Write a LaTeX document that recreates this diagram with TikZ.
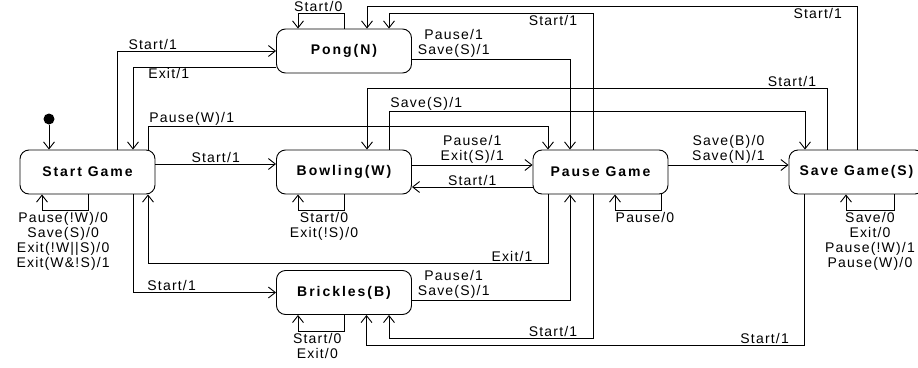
\documentclass[tikz,border=0pt]{standalone}
\usepackage{fontspec}
\setmainfont{Liberation Sans}[LetterSpace=8.5]
\newfontfamily\statefont{Liberation Sans}[LetterSpace=14]
\usetikzlibrary{arrows.meta}

\begin{document}
\begin{tikzpicture}[
    x=1pt, y=-1pt,
    every node/.style={font=\fontsize{14}{15}\selectfont},
    state/.style={draw, line width=0.9pt, rounded corners=9pt, minimum width=135pt, minimum height=44pt, inner sep=0pt, font=\statefont\bfseries\fontsize{14}{15}\selectfont},
    lbl/.style={inner sep=1pt, align=center},
    arrow/.style={-{Straight Barb[length=7pt,width=11pt]}, line width=0.9pt}
  ]
    \useasboundingbox (0,0) rectangle (918,367);

    \node[state] (start)    at (87.5,172)  {Start Game};
    \node[state] (pong)     at (344,51)    {Pong(N)};
    \node[state] (bowling)  at (344,172)   {Bowling(W)};
    \node[state] (brickles) at (344,292.5) {Brickles(B)};
    \node[state] (pause)    at (600.5,172) {Pause Game};
    \node[state] (save)     at (856.5,172) {Save Game(S)};
    \node[circle, fill, inner sep=0pt, minimum size=11pt] (init) at (49,119) {};

    \draw[arrow] (init) -- (init |- start.north);

    % from Start Game
    \draw[arrow] ([xshift=29.5]start.north) |- node[lbl, above, pos=0.6125]{Start/1} (pong.west);
    \draw[arrow] ([yshift=8]start.east) -- node[lbl, above]{Start/1} ([yshift=8]bowling.west);
    \draw[arrow] ([xshift=45.5]start.south) |- node[lbl, above, pos=0.635]{Start/1} (brickles.west);
    \draw[arrow] ([xshift=60.5]start.north) -- ++(0,-23) -| node[lbl, anchor=south west, pos=0]{Pause(W)/1} ([xshift=-52.5]pause.north);
    \draw[arrow] ([xshift=0.5]start.south) -- ++(0,16) -| node[lbl, below, pos=0.27]{Pause(!W)/0\\Save(S)/0\\Exit(!W||S)/0\\Exit(W\&!S)/1} ([xshift=-45.5]start.south);

    % games
    \draw[arrow] ([yshift=-16]pong.west) -| node[lbl, below, pos=0.375]{Exit/1} ([xshift=45.5]start.north);
    \draw[arrow] ([yshift=-8]pong.east) -| node[lbl, above, pos=0.132]{Pause/1\\Save(S)/1} ([xshift=-30.5]pause.north);
    \draw[arrow] (pong.north) -- ++(0,-15) -| node[lbl, above, pos=0.28]{Start/0} ([xshift=-46]pong.north);
    \draw[arrow] ([yshift=7]bowling.east) -- node[lbl, above]{Pause/1\\Exit(S)/1} ([yshift=7]pause.west);
    \draw[arrow] ([xshift=45]bowling.north) -- ++(0,-38) -| node[lbl, anchor=south west, pos=0]{Save(S)/1} ([xshift=-51.5]save.north);
    \draw[arrow] (bowling.south) -- ++(0,16) -| node[lbl, below, pos=0.217]{Start/0\\Exit(!S)/0} ([xshift=-46]bowling.south);
    \draw[arrow] ([yshift=-7.5]brickles.east) -| node[lbl, above, pos=0.132]{Pause/1\\Save(S)/1} ([xshift=-30.5]pause.south);
    \draw[arrow] (brickles.south) -- ++(0,16.5) -| node[lbl, below, pos=0.29]{Start/0\\Exit/0} ([xshift=-46]brickles.south);

    % from Pause Game
    \draw[arrow] ([yshift=-15]pause.west) -- node[lbl, above]{Start/1} ([yshift=-15]bowling.east);
    \draw[arrow] ([yshift=7]pause.east) -- node[lbl, above]{Save(B)/0\\Save(N)/1} ([yshift=7]save.west);
    \draw[arrow] ([xshift=-7.5]pause.north) -- ++(0,-136) -| node[lbl, below, pos=0.098]{Start/1} ([xshift=45]pong.north);
    \draw[arrow] ([xshift=-7.5]pause.south) -- ++(0,144) -| node[lbl, above, pos=0.098]{Start/1} ([xshift=45]brickles.south);
    \draw[arrow] ([xshift=-52.5]pause.south) -- ++(0,69) -| node[lbl, above, pos=0.045]{Exit/1} ([xshift=60.5]start.south);
    \draw[arrow] ([xshift=60.5]pause.south) -- ++(0,16) -| node[lbl, below, pos=0.174]{Pause/0} ([xshift=14.5]pause.south);

    % from Save Game
    \draw[arrow] ([xshift=0.5]save.north) -- ++(0,-143) -| node[lbl, below, pos=0.04]{Start/1} ([xshift=23]pong.north);
    \draw[arrow] ([xshift=-29.5]save.north) -- ++(0,-61) -| node[lbl, above, pos=0.038]{Start/1} ([xshift=23]bowling.north);
    \draw[arrow] ([xshift=-52.5]save.south) -- ++(0,151) -| node[lbl, above, pos=0.045]{Start/1} ([xshift=22.5]brickles.south);
    \draw[arrow] ([xshift=37.5]save.south) -- ++(0,16) -| node[lbl, below, pos=0.25]{Save/0\\Exit/0\\Pause(!W)/1\\Pause(W)/0} ([xshift=-10.5]save.south);

  \end{tikzpicture}
\end{document}
